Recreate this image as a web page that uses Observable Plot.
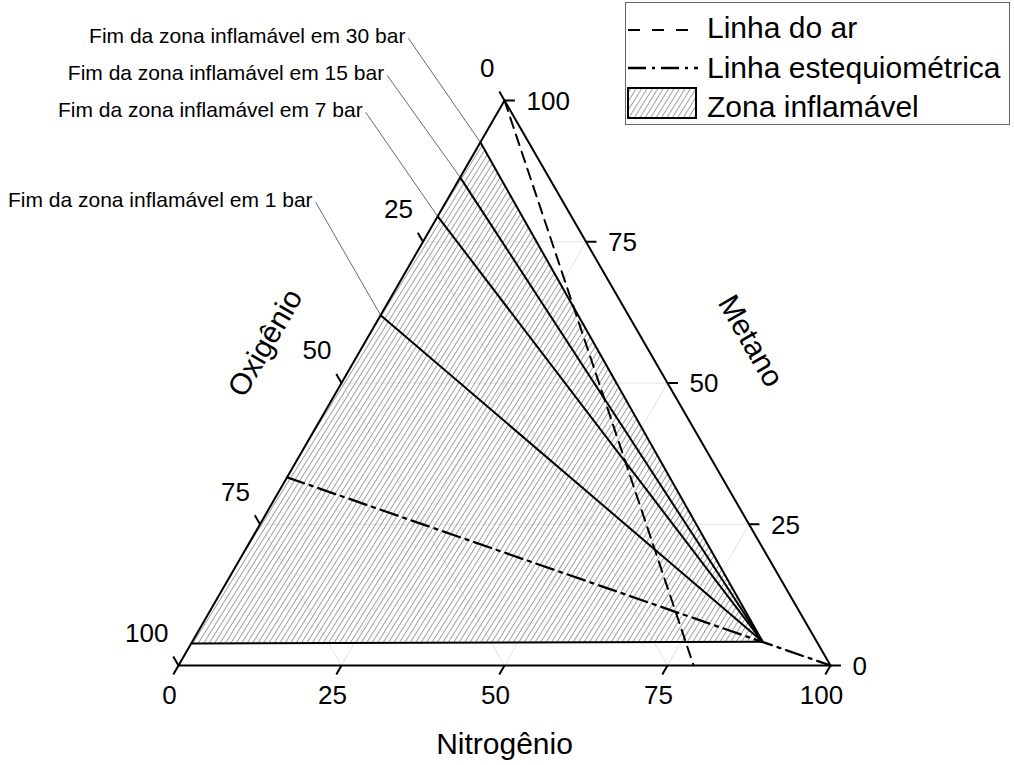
<!DOCTYPE html>
<html><head><meta charset="utf-8">
<script src="https://cdn.jsdelivr.net/npm/d3@7"></script>
<script src="https://cdn.jsdelivr.net/npm/@observablehq/plot@0.6"></script>
<style>
html,body{margin:0;padding:0;background:#fff;overflow:hidden}
#wrap{position:relative;width:1014px;height:765px}
#legend{position:absolute;left:0;top:0}
</style></head><body><div id="wrap"></div>
<script>
// ---- data ----
const tickValues = [0, 25, 50, 75, 100];
const tickLabels = ["0", "25", "50", "75", "100"];
const gridValues = [25, 50, 75];
const pressures = ["30", "15", "7", "1"];
const upperLimitMethane = [92.6, 86.4, 79.5, 62.0];   // % CH4 at N2 = 0 where the zone ends
const lowerLimitMethane = [3.9];                       // % CH4 at N2 = 0 (lower limit)
const noseNitrogen = [87.5];
const noseMethane = [4.2];
const airNitrogen = [0, 79];
const airMethane = [100, 0];
const stoichNitrogen = [0, 100];
const stoichMethane = [33.3, 0];
const axisTitles = ["Nitrogênio", "Metano", "Oxigênio"];
const legendLabels = ["Linha do ar", "Linha estequiométrica", "Zona inflamável"];

// ---- ternary helpers (N = nitrogen, M = methane) ----
const S = Math.sqrt(3) / 2;
const P = (n, m) => ({x: n + m / 2, y: m * S});

// gridlines
const grid = [];
for (const t of gridValues) {
  const a = P(t, 0), b = P(t, 100 - t);            // constant N
  grid.push({x1: a.x, y1: a.y, x2: b.x, y2: b.y});
  const c = P(0, t), d = P(100 - t, t);            // constant M
  grid.push({x1: c.x, y1: c.y, x2: d.x, y2: d.y});
  const e = P(100 - t, 0), f = P(0, 100 - t);      // constant O
  grid.push({x1: e.x, y1: e.y, x2: f.x, y2: f.y});
}

const nose = P(noseNitrogen[0], noseMethane[0]);
const lowLeft = P(0, lowerLimitMethane[0]);
const zonePoly = [lowLeft, nose, P(0, upperLimitMethane[0])];
const zoneLines = upperLimitMethane.map(m => {const a = P(0, m); return {x1: a.x, y1: a.y, x2: nose.x, y2: nose.y};});
zoneLines.push({x1: lowLeft.x, y1: lowLeft.y, x2: nose.x, y2: nose.y});

const air = airNitrogen.map((n, i) => P(n, airMethane[i]));
const stoich = stoichNitrogen.map((n, i) => P(n, stoichMethane[i]));
const tri = [P(0, 0), P(100, 0), P(0, 100)];

// ticks
const L = 1.6;
const nTicks = tickValues.map((t, i) => {const a = P(t, 0); return {x1: a.x, y1: a.y, x2: a.x - 0.5 * L, y2: a.y - S * L, label: tickLabels[i]};});
const oTicks = tickValues.map((t, i) => {const a = P(0, 100 - t); return {x1: a.x, y1: a.y, x2: a.x - 0.5 * L, y2: a.y + S * L, label: tickLabels[i]};});
const mTicks = tickValues.map((t, i) => {const a = P(100 - t, t); return {x1: a.x, y1: a.y, x2: a.x + L, y2: a.y, label: tickLabels[i]};});

// annotations (pixel offsets from the zone end points)
const pxu = 100 / 652;
const annOffsets = [
  {tx: -75, ty: -99, lx: -72, ly: -104},
  {tx: -76, ty: -97, lx: -73, ly: -102},
  {tx: -75, ty: -99, lx: -72, ly: -104},
  {tx: -68, ty: -108, lx: -65, ly: -113}
];
const ann = upperLimitMethane.map((m, i) => {
  const a = P(0, m), o = annOffsets[i];
  return {x: a.x, y: a.y, lx: a.x + o.lx * pxu, ly: a.y - o.ly * pxu, tx: a.x + o.tx * pxu, ty: a.y - o.ty * pxu,
    text: `Fim da zona inflamável em ${pressures[i]} bar`};
});

const font = "'Liberation Sans', Arial, Helvetica, sans-serif";

const chart = Plot.plot({
  width: 1014, height: 765,
  marginLeft: 178, marginRight: 184, marginTop: 100, marginBottom: 100,
  x: {domain: [0, 100], axis: null},
  y: {domain: [0, 100 * S], axis: null},
  style: {fontFamily: font, background: "white", color: "black", overflow: "visible"},
  marks: [
    Plot.link(grid, {x1: "x1", y1: "y1", x2: "x2", y2: "y2", stroke: "#e4e4e4", strokeWidth: 1}),
    Plot.line(zonePoly, {x: "x", y: "y", fill: "url(#hatch)", stroke: "none", curve: "linear-closed"}),
    Plot.line(air, {x: "x", y: "y", stroke: "black", strokeWidth: 2, strokeDasharray: "11,7"}),
    Plot.line(stoich, {x: "x", y: "y", stroke: "black", strokeWidth: 2.3, strokeDasharray: "18,6,3,6"}),
    Plot.link(zoneLines, {x1: "x1", y1: "y1", x2: "x2", y2: "y2", stroke: "black", strokeWidth: 2}),
    Plot.line(tri, {x: "x", y: "y", stroke: "black", strokeWidth: 2, curve: "linear-closed"}),
    Plot.link(nTicks, {x1: "x1", y1: "y1", x2: "x2", y2: "y2", stroke: "black", strokeWidth: 2}),
    Plot.link(oTicks, {x1: "x1", y1: "y1", x2: "x2", y2: "y2", stroke: "black", strokeWidth: 2}),
    Plot.link(mTicks, {x1: "x1", y1: "y1", x2: "x2", y2: "y2", stroke: "black", strokeWidth: 2}),
    Plot.text(nTicks, {x: "x1", y: "y1", text: "label", fontSize: 26, textAnchor: "middle", lineAnchor: "bottom", dx: -9, dy: 38}),
    Plot.text(oTicks, {x: "x1", y: "y1", text: "label", fontSize: 26, textAnchor: "end", lineAnchor: "middle", dx: -10, dy: -32}),
    Plot.text(mTicks, {x: "x1", y: "y1", text: "label", fontSize: 26, textAnchor: "start", lineAnchor: "middle", dx: 22, dy: 1}),
    Plot.text([P(50, 0)], {x: "x", y: "y", text: [axisTitles[0]], fontSize: 30, textAnchor: "middle", lineAnchor: "bottom", dy: 88}),
    Plot.text([P(50, 50)], {x: "x", y: "y", text: [axisTitles[1]], fontSize: 30, textAnchor: "middle", lineAnchor: "middle", rotate: 60, dx: 83, dy: -42}),
    Plot.text([P(0, 50)], {x: "x", y: "y", text: [axisTitles[2]], fontSize: 30, textAnchor: "middle", lineAnchor: "middle", rotate: -60, dx: -76, dy: -40}),
    Plot.link(ann, {x1: "lx", y1: "ly", x2: "x", y2: "y", stroke: "#444", strokeWidth: 0.8}),
    Plot.text(ann, {x: "tx", y: "ty", text: "text", fontSize: 21, textAnchor: "end", lineAnchor: "bottom"})
  ]
});

const svgNS = "http://www.w3.org/2000/svg";
const defs = document.createElementNS(svgNS, "defs");
defs.innerHTML = `<pattern id="hatch" patternUnits="userSpaceOnUse" width="4.6" height="4.6" patternTransform="rotate(32)"><line x1="2.3" y1="-1" x2="2.3" y2="6" stroke="#8c8c8c" stroke-width="0.8"/></pattern>`;
chart.insertBefore(defs, chart.firstChild);
document.getElementById("wrap").appendChild(chart);

// legend
const leg = d3.select("#wrap").append("svg").attr("id", "legend").attr("width", 1014).attr("height", 130)
  .style("font-family", font);
leg.append("rect").attr("x", 625.5).attr("y", 2.5).attr("width", 384).attr("height", 122)
  .attr("fill", "white").attr("stroke", "#666").attr("stroke-width", 1);
leg.append("line").attr("x1", 628).attr("x2", 688).attr("y1", 30).attr("y2", 30)
  .attr("stroke", "black").attr("stroke-width", 2).attr("stroke-dasharray", "12,12");
leg.append("line").attr("x1", 628).attr("x2", 698).attr("y1", 68).attr("y2", 68)
  .attr("stroke", "black").attr("stroke-width", 2.3).attr("stroke-dasharray", "18,6,3,6");
leg.append("rect").attr("x", 628).attr("y", 88).attr("width", 68).attr("height", 30)
  .attr("fill", "url(#hatch)").attr("stroke", "black").attr("stroke-width", 2);
[38, 78, 117].forEach((y, i) => {
  leg.append("text").attr("x", 707).attr("y", y).attr("font-size", 30).attr("fill", "black").text(legendLabels[i]);
});
</script></body></html>
